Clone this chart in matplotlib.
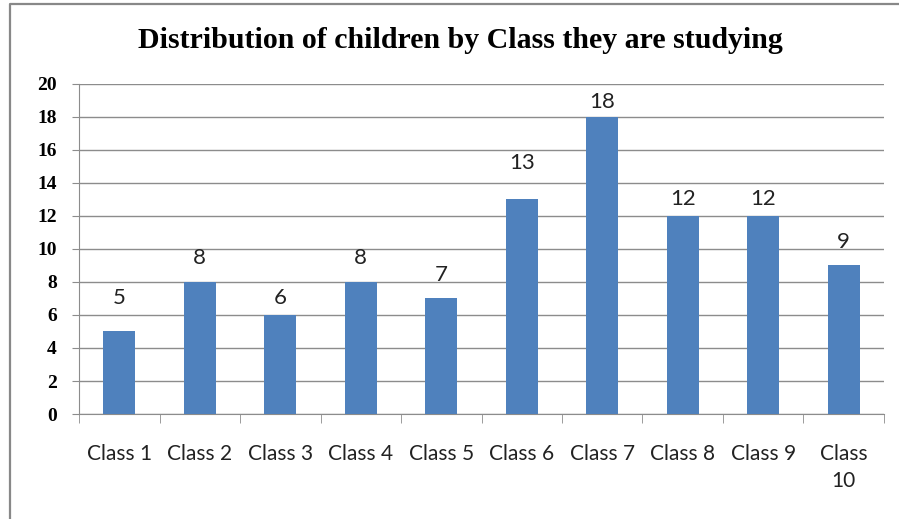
import matplotlib.pyplot as plt
from matplotlib.lines import Line2D
import numpy as np

# data
classes = ['Class 1', 'Class 2', 'Class 3', 'Class 4', 'Class 5',
           'Class 6', 'Class 7', 'Class 8', 'Class 9', 'Class\n10']
children = [5, 8, 6, 8, 7, 13, 18, 12, 12, 9]

# excel put the value labels at uneven heights (points above bar top)
label_offsets = [24, 17, 12, 17, 17, 26, 11, 12, 12, 17]

fig = plt.figure(figsize=(8.99, 5.19), dpi=100, facecolor='w')
ax = fig.add_axes([0.0879, 0.2023, 0.8954, 0.6359])

x = np.arange(len(classes))
ax.bar(x, children, width=0.4, color='#4F81BD', zorder=3)

for i, v in enumerate(children):
    ax.annotate(str(v), (x[i], v), xytext=(0, label_offsets[i]),
                textcoords='offset points', ha='center', va='center',
                fontsize=16, family='Lato', color='#222222')

ax.set_xlim(-0.5, len(classes) - 0.5)
ax.set_ylim(0, 20)
ax.set_yticks(range(0, 21, 2))
ax.set_yticklabels([str(t) for t in range(0, 21, 2)], family='Liberation Serif',
                   fontweight='bold', fontsize=14)
ax.yaxis.grid(True, color='#8c8c8c', linewidth=1, zorder=0)

ax.set_xticks(x)
ax.set_xticklabels(classes, family='Lato', fontsize=15, color='#222222',
                   linespacing=1.45, va='top')
ax.set_xticks(np.arange(-0.5, len(classes)), minor=True)
ax.tick_params(axis='x', which='major', length=0, pad=21.5)
ax.tick_params(axis='x', which='minor', length=6.5, color='#8c8c8c', direction='out')
ax.tick_params(axis='y', length=5, color='#8c8c8c', direction='out', pad=11)

for s in ['top', 'right']:
    ax.spines[s].set_visible(False)
for s in ['left', 'bottom']:
    ax.spines[s].set_color('#8c8c8c')

fig.text(460 / 899, 1 - 40 / 519, 'Distribution of children by Class they are studying',
         ha='center', va='center', family='Liberation Serif', fontweight='bold',
         fontsize=21.5)

# gray frame of the chart area, cut off at right and bottom
fig.lines.append(Line2D([10 / 899, 10 / 899, 1], [0, 1 - 3.7 / 519, 1 - 3.7 / 519],
                        transform=fig.transFigure, color='#888888', linewidth=1.6))

fig.savefig('out.png', dpi=100)
